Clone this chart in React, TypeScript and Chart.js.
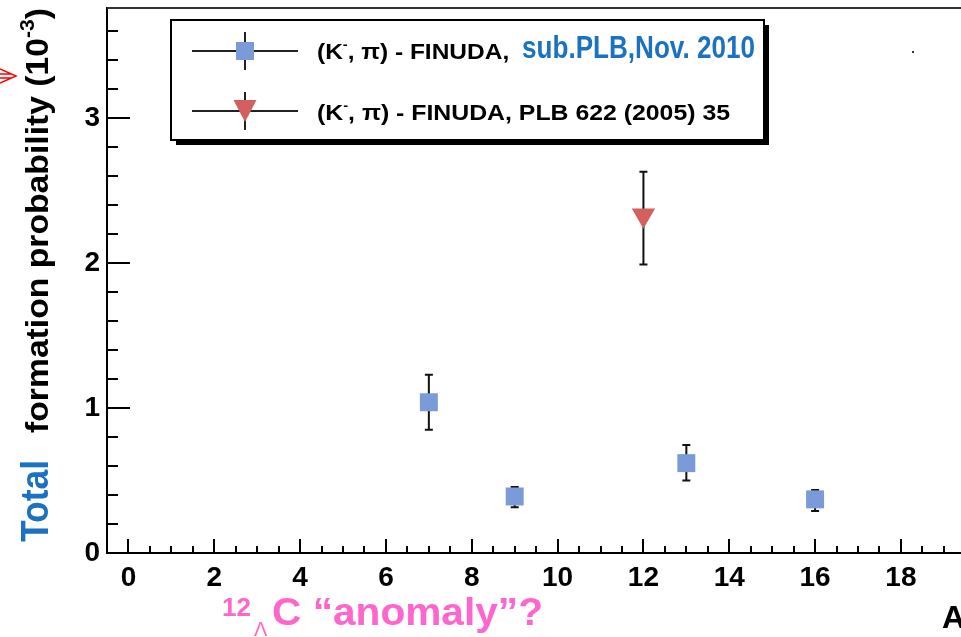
import React, { useEffect, useRef } from 'react';
import { Chart, registerables } from 'chart.js';

Chart.register(...registerables);

// ---- data ----
const newMassNumbers = [7, 9, 13, 16];
const newProbabilities = [1.04, 0.39, 0.62, 0.37];
const newErrHigh = [1.23, 0.455, 0.745, 0.435];
const newErrLow = [0.85, 0.315, 0.5, 0.29];

const oldMassNumbers = [12];
const oldProbabilities = [2.33];
const oldErrHigh = [2.63];
const oldErrLow = [1.99];

const xTickValues = [0, 2, 4, 6, 8, 10, 12, 14, 16, 18];
const yTickValues = [0, 1, 2, 3];

const legendRow1Black = '(K';
const legendRow1Rest = ', \u03c0) - FINUDA, ';
const legendRow1Blue = 'sub.PLB,Nov. 2010';
const legendRow2Rest = ', \u03c0) - FINUDA, PLB 622 (2005) 35';
const xAxisTitle = 'A';
const yTitleBlue = 'Total';
const yTitleBlack = 'formation probability (10';
const annotationText = 'C \u201canomaly\u201d?';

const BLUE = '#7b9ad8';
const RED = '#d35f5f';
const FONT = '"Liberation Sans", Arial, Helvetica, sans-serif';

type Seg = { t: string; font: string; color: string; dy?: number };

function drawRich(ctx: CanvasRenderingContext2D, segs: Seg[], x: number, y: number, target?: number) {
  let w = 0;
  const ws = segs.map((s) => {
    ctx.font = s.font;
    const m = ctx.measureText(s.t).width;
    w += m;
    return m;
  });
  const sc = target ? target / w : 1;
  ctx.save();
  ctx.translate(x, y);
  ctx.scale(sc, 1);
  ctx.textAlign = 'left';
  ctx.textBaseline = 'alphabetic';
  let cx = 0;
  segs.forEach((s, i) => {
    ctx.font = s.font;
    ctx.fillStyle = s.color;
    ctx.fillText(s.t, cx, s.dy || 0);
    cx += ws[i];
  });
  ctx.restore();
}

const errorBarPlugin = {
  id: 'errorBars',
  beforeDatasetsDraw(chart: any) {
    const ctx = chart.ctx as CanvasRenderingContext2D;
    const ys = chart.scales.y;
    ctx.save();
    ctx.strokeStyle = '#111';
    ctx.lineWidth = 2;
    chart.data.datasets.forEach((ds: any, di: number) => {
      const meta = chart.getDatasetMeta(di);
      meta.data.forEach((pt: any, i: number) => {
        const x = pt.x;
        const yh = ys.getPixelForValue(ds.errHigh[i]);
        const yl = ys.getPixelForValue(ds.errLow[i]);
        ctx.beginPath();
        ctx.moveTo(x, yh);
        ctx.lineTo(x, yl);
        ctx.moveTo(x - 4, yh);
        ctx.lineTo(x + 4, yh);
        ctx.moveTo(x - 4, yl);
        ctx.lineTo(x + 4, yl);
        ctx.stroke();
      });
    });
    ctx.restore();
  },
};

const decorPlugin = {
  id: 'decor',
  afterDraw(chart: any) {
    const ctx = chart.ctx as CanvasRenderingContext2D;
    const xs = chart.scales.x;
    const ys = chart.scales.y;
    const area = chart.chartArea;
    ctx.save();

    // top frame line
    ctx.strokeStyle = '#333';
    ctx.lineWidth = 2;
    ctx.beginPath();
    ctx.moveTo(area.left, area.top);
    ctx.lineTo(area.right, area.top);
    ctx.stroke();

    // inside ticks
    ctx.strokeStyle = '#000';
    ctx.lineWidth = 2;
    ctx.beginPath();
    for (let k = 0; k * 0.2 <= ys.max + 1e-9; k++) {
      const v = k * 0.2;
      const py = Math.round(ys.getPixelForValue(v));
      const len = k % 5 === 0 ? 23 : 11;
      ctx.moveTo(area.left, py);
      ctx.lineTo(area.left + len, py);
    }
    for (let k = 0; -0.5 + k * 0.5 <= xs.max + 1e-9; k++) {
      const v = -0.5 + k * 0.5;
      const px = Math.round(xs.getPixelForValue(v));
      const isMajor = Math.abs(v / 2 - Math.round(v / 2)) < 1e-9;
      const len = isMajor ? 14 : 7;
      ctx.moveTo(px, area.bottom);
      ctx.lineTo(px, area.bottom - len);
    }
    ctx.stroke();

    // legend box with shadow
    const lx = 171, ly = 20, lw = 593, lh = 120;
    ctx.fillStyle = '#000';
    ctx.fillRect(lx + 5, ly + lh, lw, 5);
    ctx.fillRect(lx + lw, ly + 5, 5, lh);
    ctx.fillStyle = '#fff';
    ctx.fillRect(lx, ly, lw, lh);
    ctx.strokeStyle = '#000';
    ctx.lineWidth = 2;
    ctx.strokeRect(lx, ly, lw, lh);

    // legend markers
    const rows = [51, 111];
    ctx.strokeStyle = '#222';
    ctx.lineWidth = 2;
    rows.forEach((ry) => {
      ctx.beginPath();
      ctx.moveTo(192, ry);
      ctx.lineTo(298, ry);
      ctx.moveTo(245, ry - 19);
      ctx.lineTo(245, ry + 19);
      ctx.stroke();
    });
    ctx.fillStyle = BLUE;
    ctx.fillRect(236, 42, 18, 18);
    ctx.fillStyle = RED;
    ctx.beginPath();
    ctx.moveTo(233.5, 100);
    ctx.lineTo(256.5, 100);
    ctx.lineTo(245, 122);
    ctx.closePath();
    ctx.fill();

    // legend texts
    const lf = `bold 22px ${FONT}`;
    const lfs = `bold 13px ${FONT}`;
    drawRich(ctx, [
      { t: legendRow1Black, font: lf, color: '#000' },
      { t: '-', font: lfs, color: '#000', dy: -10 },
      { t: legendRow1Rest, font: lf, color: '#000' },
    ], 317, 59, 199);
    drawRich(ctx, [{ t: legendRow1Blue, font: `bold 31px ${FONT}`, color: '#1a72c0' }], 522, 58, 233);
    drawRich(ctx, [
      { t: legendRow1Black, font: lf, color: '#000' },
      { t: '-', font: lfs, color: '#000', dy: -10 },
      { t: legendRow2Rest, font: lf, color: '#000' },
    ], 317, 120, 413);

    // y-axis title (rotated)
    ctx.save();
    ctx.translate(48, 542);
    ctx.rotate(-Math.PI / 2);
    drawRich(ctx, [{ t: yTitleBlue, font: `bold 38px ${FONT}`, color: '#1a72c0' }], 0, 0, 82);
    drawRich(ctx, [
      { t: yTitleBlack, font: `bold 32px ${FONT}`, color: '#000' },
      { t: '-3', font: `bold 20px ${FONT}`, color: '#000', dy: -14 },
      { t: ')', font: `bold 32px ${FONT}`, color: '#000' },
    ], 109, 0, 425);
    ctx.restore();

    // x-axis title
    ctx.font = `bold 32px ${FONT}`;
    ctx.fillStyle = '#000';
    ctx.textAlign = 'left';
    ctx.textBaseline = 'alphabetic';
    ctx.fillText(xAxisTitle, 942, 628);

    // pink annotation
    const pink = '#ff66cc';
    ctx.fillStyle = pink;
    ctx.font = `bold 26px ${FONT}`;
    ctx.fillText('12', 222, 616);
    ctx.font = `20px ${FONT}`;
    ctx.fillText('\u039b', 254, 636);
    drawRich(ctx, [{ t: annotationText, font: `bold 38px ${FONT}`, color: pink }], 272, 625, 271);

    // red arrow at left edge
    ctx.strokeStyle = '#ff0000';
    ctx.lineWidth = 1.5;
    ctx.beginPath();
    ctx.moveTo(0, 69);
    ctx.lineTo(16, 76);
    ctx.lineTo(0, 83);
    ctx.moveTo(0, 74);
    ctx.lineTo(11, 74);
    ctx.moveTo(0, 78);
    ctx.lineTo(11, 78);
    ctx.stroke();

    // small dot
    ctx.fillStyle = '#333';
    ctx.fillRect(912, 51, 2, 2);

    ctx.restore();
  },
};

const zeroPadding = (s: any) => {
  s.paddingTop = 0;
  s.paddingBottom = 0;
  s.paddingLeft = 0;
  s.paddingRight = 0;
};

export default function App() {
  const ref = useRef<HTMLCanvasElement | null>(null);

  useEffect(() => {
    if (!ref.current) return;
    const tickFont = { family: FONT, size: 28, weight: 'bold' as const };
    const chart = new Chart(ref.current, {
      type: 'scatter',
      data: {
        datasets: [
          {
            label: 'new',
            data: newMassNumbers.map((a, i) => ({ x: a, y: newProbabilities[i] })),
            backgroundColor: BLUE,
            borderWidth: 0,
            pointStyle: 'rect',
            pointRadius: 12.7,
            errHigh: newErrHigh,
            errLow: newErrLow,
          } as any,
          {
            label: 'old',
            data: oldMassNumbers.map((a, i) => ({ x: a, y: oldProbabilities[i] })),
            backgroundColor: RED,
            borderWidth: 0,
            pointStyle: 'triangle',
            rotation: 180,
            pointRadius: 13.5,
            errHigh: oldErrHigh,
            errLow: oldErrLow,
          } as any,
        ],
      },
      options: {
        responsive: false,
        animation: false,
        events: [],
        devicePixelRatio: 1,
        layout: { autoPadding: false, padding: { top: 8, right: 0, left: 0, bottom: 0 } },
        plugins: { legend: { display: false }, tooltip: { enabled: false } },
        scales: {
          x: {
            type: 'linear',
            min: -0.5,
            max: 19.4,
            grid: { display: false, drawTicks: false },
            border: { display: true, color: '#000', width: 2 },
            ticks: { font: tickFont, color: '#000', padding: 8, maxRotation: 0, autoSkip: false },
            afterBuildTicks: (s: any) => { s.ticks = xTickValues.map((v) => ({ value: v })); },
            afterFit: (s: any) => { s.height = 84; zeroPadding(s); },
          },
          y: {
            type: 'linear',
            min: 0,
            max: 3.76,
            grid: { display: false, drawTicks: false },
            border: { display: true, color: '#000', width: 2 },
            ticks: { font: tickFont, color: '#000', padding: 7, autoSkip: false },
            afterBuildTicks: (s: any) => { s.ticks = yTickValues.map((v) => ({ value: v })); },
            afterFit: (s: any) => { s.width = 107; zeroPadding(s); },
          },
        },
      } as any,
      plugins: [errorBarPlugin, decorPlugin],
    });
    return () => chart.destroy();
  }, []);

  return (
    <div style={{ position: 'fixed', left: 0, top: 0, width: 961, height: 637, background: '#fff' }}>
      <canvas ref={ref} width={961} height={637} style={{ display: 'block', width: 961, height: 637 }} />
    </div>
  );
}
